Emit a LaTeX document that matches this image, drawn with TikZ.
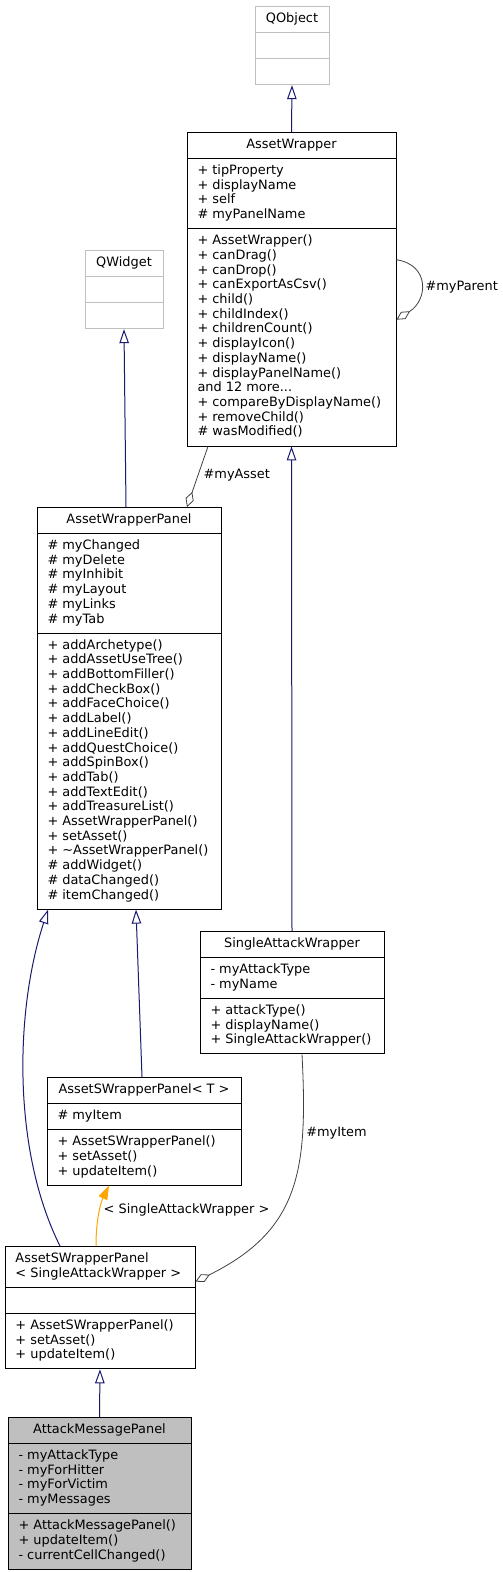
\documentclass[tikz,border=0pt]{standalone}
\usepackage{fontspec}
\setmainfont{DejaVu Sans}
\usetikzlibrary{shapes.multipart,arrows.meta}

\definecolor{edgeblue}{HTML}{191970}
\definecolor{aggrgray}{HTML}{404040}
\definecolor{boxgray}{HTML}{BFBFBF}
\definecolor{tmplorange}{HTML}{FFA500}

\begin{document}
\begin{tikzpicture}[
    x=1pt,y=-1pt,
    font=\fontsize{12.9}{14.7}\selectfont,
    classnode/.style={
      rectangle split,rectangle split parts=3,
      rectangle split part align={center,left,left},
      draw,fill=white,line width=0.9pt,align=left,
      inner xsep=10.5pt,inner ysep=5.25pt,anchor=north
    },
    extnode/.style={
      classnode,
      draw=boxgray
    },
    mainnode/.style={
      classnode,
      fill=boxgray
    },
    inherit/.style={
      draw=edgeblue,line width=1pt,
      -{Triangle[open,length=14pt,width=9.5pt]}
    },
    aggr/.style={
      draw=aggrgray,line width=0.8pt,
      -{Diamond[open,length=16pt,width=8.5pt]}
    },
    templ/.style={
      draw=tmplorange,line width=1pt,
      -{Triangle[fill=tmplorange,length=14pt,width=9.5pt]}
    }]
      \useasboundingbox (0,0) rectangle (503,1572);

      \node[extnode,minimum width=74pt] (qobject) at (292,6)
        {\strut QObject\nodepart{second}\strut\nodepart{third}\strut};

      \node[extnode,minimum width=78pt] (qwidget) at (124,250)
        {\strut QWidget\nodepart{second}\strut\nodepart{third}\strut};

      \node[classnode,minimum width=209pt] (assetwrapper) at (291.5,132)
        {\strut AssetWrapper
         \nodepart{second}\strut+ tipProperty\\+ displayName\\+ self\\\# myPanelName\strut
         \nodepart{third}\strut+ AssetWrapper()\\+ canDrag()\\+ canDrop()\\+ canExportAsCsv()\\+ child()\\+ childIndex()\\+ childrenCount()\\+ displayIcon()\\+ displayName()\\+ displayPanelName()\\and 12 more...\\+ compareByDisplayName()\\+ removeChild()\\\# wasModified()\strut};

      \node[classnode,minimum width=184pt] (assetwrapperpanel) at (129,507)
        {\strut AssetWrapperPanel
         \nodepart{second}\strut\# myChanged\\\# myDelete\\\# myInhibit\\\# myLayout\\\# myLinks\\\# myTab\strut
         \nodepart{third}\strut+ addArchetype()\\+ addAssetUseTree()\\+ addBottomFiller()\\+ addCheckBox()\\+ addFaceChoice()\\+ addLabel()\\+ addLineEdit()\\+ addQuestChoice()\\+ addSpinBox()\\+ addTab()\\+ addTextEdit()\\+ addTreasureList()\\+ AssetWrapperPanel()\\+ setAsset()\\+ \textasciitilde AssetWrapperPanel()\\\# addWidget()\\\# dataChanged()\\\# itemChanged()\strut};

      \node[classnode,minimum width=184pt] (singleattackwrapper) at (292,931)
        {\strut SingleAttackWrapper
         \nodepart{second}\strut- myAttackType\\- myName\strut
         \nodepart{third}\strut+ attackType()\\+ displayName()\\+ SingleAttackWrapper()\strut};

      \node[classnode,minimum width=194pt] (tplpanel) at (144,1077)
        {\strut AssetSWrapperPanel< T >
         \nodepart{second}\strut\# myItem\strut
         \nodepart{third}\strut+ AssetSWrapperPanel()\\+ setAsset()\\+ updateItem()\strut};

      \node[classnode,minimum width=190pt,rectangle split part align={left,left,left}] (attackpanel) at (100,1246)
        {\strut AssetSWrapperPanel\\< SingleAttackWrapper >\strut
         \nodepart{second}\strut
         \nodepart{third}\strut+ AssetSWrapperPanel()\\+ setAsset()\\+ updateItem()\strut};

      \node[mainnode,minimum width=183pt] (attackmessagepanel) at (99.5,1417)
        {\strut AttackMessagePanel
         \nodepart{second}\strut- myAttackType\\- myForHitter\\- myForVictim\\- myMessages\strut
         \nodepart{third}\strut+ AttackMessagePanel()\\+ updateItem()\\- currentCellChanged()\strut};

      % inheritance
      \draw[inherit] (assetwrapper.north) -- (qobject.south);
      \draw[inherit] ([xshift=-3pt]assetwrapperpanel.north) -- (qwidget.south);
      \draw[inherit] (singleattackwrapper.north) -- (assetwrapper.south);
      \draw[inherit] ([xshift=-2pt]tplpanel.north) -- ([xshift=7pt]assetwrapperpanel.south);
      \draw[inherit] ([xshift=-40pt]attackpanel.north) .. controls (12,1150) and (15,1010) .. ([xshift=-81pt]assetwrapperpanel.south);
      \draw[inherit] (attackmessagepanel.north) -- (attackpanel.south);

      % template instance
      \draw[templ] ([xshift=-4pt]attackpanel.north) .. controls (96,1215) and (102,1200) .. ([xshift=-35pt]tplpanel.south)
        node[pos=0.5,anchor=west,text=black] {< SingleAttackWrapper >};

      % members
      \draw[aggr] ([xshift=-83.5pt]assetwrapper.south) -- node[pos=0.48,anchor=west,xshift=2pt] {\#myAsset} ([xshift=58pt]assetwrapperpanel.north);
      \draw[aggr] ([yshift=29.5pt]assetwrapper.east) .. controls (430,265) and (428,300) .. ([yshift=-30.5pt]assetwrapper.east)
        node[pos=0.5,anchor=west,xshift=1pt,yshift=-3pt] {\#myParent};
      \draw[aggr] ([xshift=10pt]singleattackwrapper.south) .. controls (308,1170) and (300,1230) .. ([yshift=26pt]attackpanel.east)
        node[pos=0.25,anchor=west,yshift=-2pt] {\#myItem};
  \end{tikzpicture}
\end{document}
